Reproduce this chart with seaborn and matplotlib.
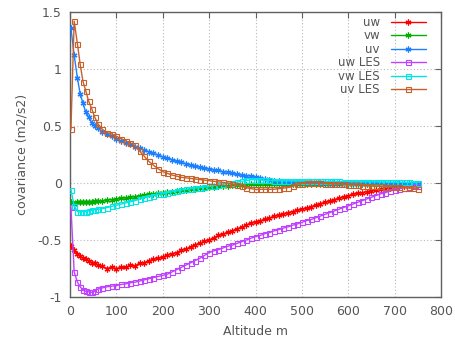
import numpy as np
import pandas as pd
import matplotlib
matplotlib.use("Agg")
import matplotlib.pyplot as plt
import seaborn as sns

altitude = [2, 9, 16, 22, 28, 34, 40, 47, 53, 60,
            70, 80, 90, 100, 110, 120, 130, 140, 150, 160,
            170, 180, 190, 200, 210, 220, 230, 240, 250, 260,
            270, 280, 290, 300, 310, 320, 330, 340, 350, 360,
            370, 380, 390, 400, 410, 420, 430, 440, 450, 460,
            470, 480, 490, 500, 510, 520, 530, 540, 550, 560,
            570, 580, 590, 600, 610, 620, 630, 640, 650, 660,
            670, 680, 690, 700, 710, 720, 730, 740, 750]

uw = [-0.55, -0.59, -0.62, -0.64, -0.66, -0.67, -0.68, -0.70, -0.70, -0.72,
      -0.73, -0.75, -0.74, -0.75, -0.74, -0.74, -0.72, -0.73, -0.70, -0.70,
      -0.68, -0.67, -0.66, -0.65, -0.63, -0.62, -0.61, -0.59, -0.58, -0.56,
      -0.54, -0.53, -0.51, -0.50, -0.48, -0.46, -0.45, -0.43, -0.42, -0.40,
      -0.39, -0.37, -0.35, -0.34, -0.33, -0.32, -0.31, -0.29, -0.28, -0.27,
      -0.26, -0.25, -0.24, -0.23, -0.22, -0.21, -0.19, -0.18, -0.17, -0.155,
      -0.145, -0.135, -0.12, -0.11, -0.10, -0.09, -0.085, -0.075, -0.07, -0.06,
      -0.055, -0.05, -0.04, -0.035, -0.03, -0.025, -0.02, -0.02, -0.015]

vw = [-0.17, -0.18, -0.17, -0.17, -0.17, -0.17, -0.165, -0.165, -0.16, -0.16,
      -0.155, -0.15, -0.145, -0.14, -0.135, -0.13, -0.125, -0.12, -0.11, -0.105,
      -0.10, -0.095, -0.09, -0.085, -0.08, -0.075, -0.07, -0.065, -0.06, -0.055,
      -0.05, -0.045, -0.04, -0.035, -0.032, -0.03, -0.027, -0.024, -0.021, -0.018,
      -0.016, -0.014, -0.012, -0.01, -0.01, -0.009, -0.009, -0.008, -0.008, -0.008,
      -0.007, -0.007, -0.007, -0.006, -0.006, -0.006, -0.006, -0.005, -0.005, -0.005,
      -0.005, -0.005, -0.005, -0.005, -0.006, -0.006, -0.006, -0.007, -0.007, -0.007,
      -0.008, -0.008, -0.008, -0.009, -0.009, -0.01, -0.01, -0.01, -0.01]

uv = [1.36, 1.12, 0.92, 0.78, 0.70, 0.62, 0.58, 0.53, 0.50, 0.48,
      0.45, 0.43, 0.41, 0.39, 0.37, 0.355, 0.34, 0.32, 0.31, 0.29,
      0.275, 0.26, 0.245, 0.23, 0.22, 0.205, 0.19, 0.18, 0.17, 0.16,
      0.15, 0.14, 0.13, 0.125, 0.115, 0.11, 0.10, 0.095, 0.085, 0.075,
      0.07, 0.065, 0.06, 0.05, 0.04, 0.035, 0.025, 0.02, 0.015, 0.01,
      0.01, 0.005, 0.005, 0.005, 0.004, 0.004, 0.003, 0.003, 0.002, 0.002,
      0.001, 0.0, 0.0, 0.0, -0.001, -0.002, -0.002, -0.003, -0.004, -0.004,
      -0.005, -0.005, -0.006, -0.007, -0.008, -0.008, -0.009, -0.01, -0.01]

uw_les = [-0.21, -0.78, -0.87, -0.91, -0.94, -0.95, -0.955, -0.96, -0.95, -0.93,
          -0.92, -0.91, -0.905, -0.90, -0.89, -0.885, -0.875, -0.87, -0.86, -0.85,
          -0.84, -0.83, -0.82, -0.81, -0.80, -0.78, -0.76, -0.74, -0.72, -0.70,
          -0.68, -0.66, -0.635, -0.61, -0.595, -0.585, -0.57, -0.555, -0.545, -0.53,
          -0.515, -0.50, -0.485, -0.47, -0.46, -0.445, -0.435, -0.42, -0.41, -0.395,
          -0.385, -0.37, -0.36, -0.345, -0.33, -0.32, -0.305, -0.29, -0.275, -0.26,
          -0.245, -0.23, -0.215, -0.20, -0.185, -0.17, -0.155, -0.14, -0.125, -0.11,
          -0.095, -0.085, -0.07, -0.06, -0.05, -0.04, -0.035, -0.03, -0.025]

vw_les = [-0.06, -0.20, -0.25, -0.255, -0.25, -0.25, -0.245, -0.24, -0.235, -0.23,
          -0.225, -0.215, -0.205, -0.195, -0.185, -0.175, -0.165, -0.155, -0.14, -0.13,
          -0.12, -0.11, -0.10, -0.095, -0.085, -0.078, -0.07, -0.062, -0.056, -0.05,
          -0.045, -0.04, -0.035, -0.03, -0.022, -0.015, -0.01, -0.004, 0.0, 0.008,
          0.015, 0.022, 0.028, 0.03, 0.027, 0.024, 0.022, 0.02, 0.02, 0.019,
          0.019, 0.018, 0.018, 0.018, 0.017, 0.017, 0.016, 0.016, 0.015, 0.015,
          0.014, 0.014, 0.013, 0.013, 0.012, 0.012, 0.011, 0.011, 0.01, 0.01,
          0.009, 0.009, 0.008, 0.008, 0.007, 0.006, 0.005, 0.004, 0.003]

uv_les = [0.47, 1.42, 1.22, 1.04, 0.89, 0.81, 0.72, 0.65, 0.58, 0.52,
          0.47, 0.44, 0.43, 0.41, 0.39, 0.37, 0.35, 0.33, 0.28, 0.235,
          0.19, 0.155, 0.125, 0.10, 0.085, 0.07, 0.06, 0.05, 0.045, 0.04,
          0.035, 0.03, 0.025, 0.02, 0.015, 0.01, 0.005, 0.0, -0.01, -0.02,
          -0.03, -0.04, -0.05, -0.055, -0.055, -0.055, -0.055, -0.055, -0.05, -0.045,
          -0.04, -0.03, -0.01, -0.005, 0.0, 0.0, -0.002, -0.004, -0.005, -0.006,
          -0.008, -0.01, -0.013, -0.016, -0.018, -0.02, -0.022, -0.024, -0.026, -0.028,
          -0.03, -0.032, -0.034, -0.036, -0.038, -0.04, -0.043, -0.046, -0.05]

series_names = ["uw", "vw", "uv", "uw LES", "vw LES", "uv LES"]
series_values = [uw, vw, uv, uw_les, vw_les, uv_les]
series_colors = ["#ff0000", "#00b000", "#1a80ff", "#c040ff", "#00e5e5", "#c8602a"]

x_ticks = [0, 100, 200, 300, 400, 500, 600, 700, 800]
y_ticks = [-1, -0.5, 0, 0.5, 1, 1.5]
y_tick_labels = ["-1", "-0.5", "0", "0.5", "1", "1.5"]

df = pd.concat([pd.DataFrame({"Altitude": altitude, "cov": v, "series": n})
                for n, v in zip(series_names, series_values)], ignore_index=True)

sns.set_style("white")
plt.rcParams["font.family"] = ["DejaVu Sans"]
plt.rcParams["axes.unicode_minus"] = False

fig = plt.figure(figsize=(4.56, 3.37), dpi=100)
ax = fig.add_axes([70 / 456, 1 - 297 / 337, 371 / 456, 285 / 337])

for i, (name, color) in enumerate(zip(series_names, series_colors)):
    sub = df[df["series"] == name]
    if "LES" in name:
        mk = dict(marker="s", markersize=3.6, markerfacecolor="none",
                  markeredgecolor=color, markeredgewidth=0.8)
    else:
        mk = dict(marker=(6, 2, 0), markersize=4.2, markeredgecolor=color,
                  markeredgewidth=0.9)
    sns.lineplot(data=sub, x="Altitude", y="cov", ax=ax, color=color,
                 linewidth=1.0, label=name, estimator=None, sort=False,
                 zorder=3 + i, **mk)

ax.set_xlim(0, 800)
ax.set_ylim(-1, 1.5)
ax.set_xticks(x_ticks)
ax.set_xticklabels([str(t) for t in x_ticks])
ax.set_yticks(y_ticks)
ax.set_yticklabels(y_tick_labels)

txt = "#555555"
ax.grid(True, linestyle=(0, (1, 2)), color="#b8b8b8", linewidth=0.8)
for s in ax.spines.values():
    s.set_color("#606060")
    s.set_linewidth(1.0)
ax.tick_params(direction="in", length=4, width=0.8, color="#606060",
               labelcolor=txt, labelsize=9, top=True, right=True, pad=6)

ax.set_xlabel("Altitude m", color=txt, fontsize=9, labelpad=5)
ax.set_ylabel("covariance (m2/s2)", color=txt, fontsize=9, labelpad=6)

leg = ax.legend(loc="upper right", bbox_to_anchor=((426 - 70) / 371, (297 - 16) / 285),
                frameon=False, markerfirst=False, fontsize=8.5, handlelength=3.0,
                handletextpad=0.9, labelspacing=0.04, borderpad=0, borderaxespad=0)
for t in leg.get_texts():
    t.set_color(txt)

fig.savefig("out.png", dpi=100)
